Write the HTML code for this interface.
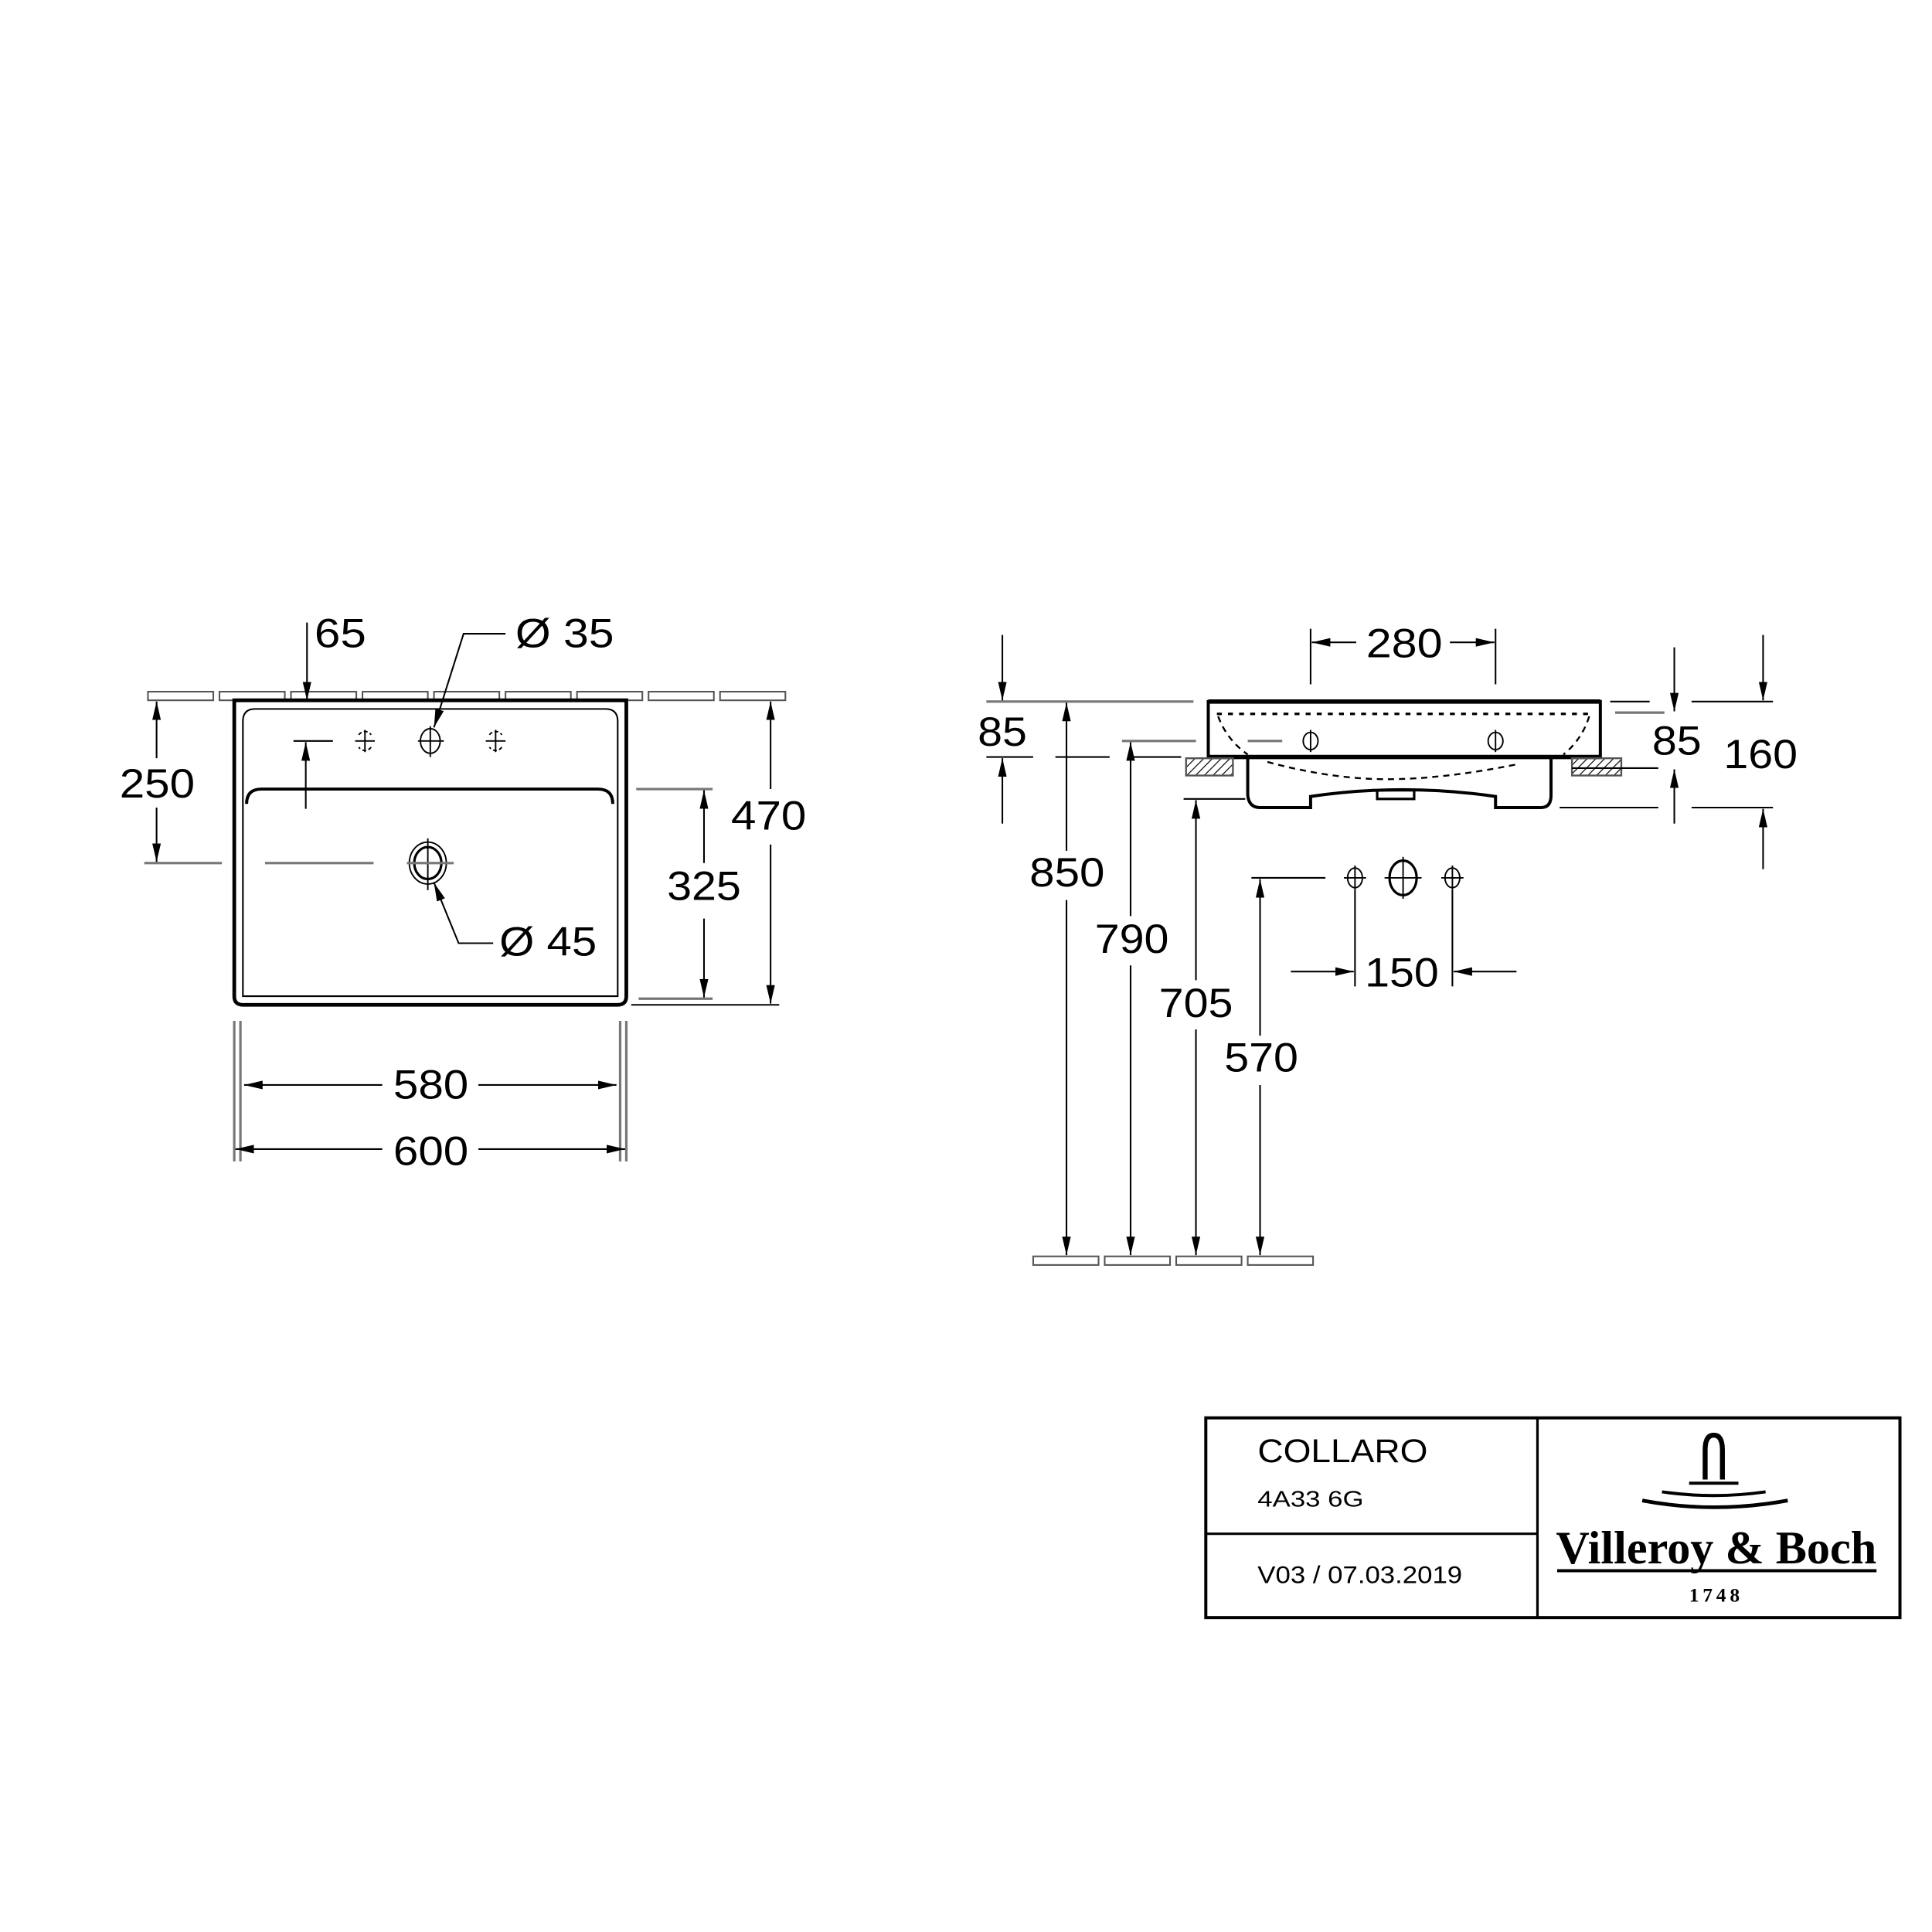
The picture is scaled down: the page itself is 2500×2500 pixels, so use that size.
<!DOCTYPE html>
<html><head><meta charset="utf-8"><style>
html,body{margin:0;padding:0;background:#fff}
svg{display:block}
text{font-family:"Liberation Sans",sans-serif;fill:#000}
</style></head><body>
<svg width="2500" height="2500" viewBox="0 0 1567 1567" xmlns="http://www.w3.org/2000/svg">
<defs>
<marker id="a" markerUnits="userSpaceOnUse" markerWidth="16" markerHeight="8" refX="15" refY="3.5" orient="auto"><path d="M0,0 L15,3.5 L0,7 z" fill="#000"/></marker>
<pattern id="h" width="5" height="5" patternUnits="userSpaceOnUse" patternTransform="rotate(45)"><line x1="0" y1="0" x2="0" y2="5" stroke="#000" stroke-width="1.5"/></pattern>
</defs>
<rect width="1567" height="1567" fill="#fff"/>

<!-- LEFT PLAN VIEW -->
<g fill="none" stroke="#555" stroke-width="1.3">
<rect x="120" y="561" width="53" height="7"/><rect x="178" y="561" width="53" height="7"/><rect x="236" y="561" width="53" height="7"/><rect x="294" y="561" width="53" height="7"/><rect x="352" y="561" width="53" height="7"/><rect x="410" y="561" width="53" height="7"/><rect x="468" y="561" width="53" height="7"/><rect x="526" y="561" width="53" height="7"/><rect x="584" y="561" width="53" height="7"/>
</g>
<path d="M190,568 H508 V808 Q508,815 501,815 H197 Q190,815 190,808 Z" fill="#fff" stroke="#000" stroke-width="3"/>
<path d="M197,808 V585 Q197,575 207,575 H491 Q501,575 501,585 V808 Z" fill="none" stroke="#000" stroke-width="1.3"/>
<path d="M200,652 Q200,640 212,640 H485 Q497,640 497,652" fill="none" stroke="#000" stroke-width="2.5"/>
<g stroke="#000" stroke-width="1.2" fill="none">
<ellipse cx="349" cy="601" rx="8" ry="10"/><line x1="339" y1="601" x2="360" y2="601"/><line x1="349" y1="589" x2="349" y2="614"/>
<path d="M291,596 A6,6 0 0 1 301,596 M301,606 A6,6 0 0 1 291,606" stroke-dasharray="3,2"/><line x1="288" y1="601" x2="304" y2="601"/><line x1="296" y1="592" x2="296" y2="610"/>
<path d="M397,596 A6,6 0 0 1 407,596 M407,606 A6,6 0 0 1 397,606" stroke-dasharray="3,2"/><line x1="394" y1="601" x2="410" y2="601"/><line x1="402" y1="592" x2="402" y2="610"/>
<ellipse cx="347" cy="700" rx="15" ry="17"/><ellipse cx="347" cy="700" rx="11" ry="13" stroke-width="2"/>
<line x1="347" y1="680" x2="347" y2="722"/>
</g>
<g stroke="#777" stroke-width="2">
<line x1="117" y1="700" x2="180" y2="700"/><line x1="215" y1="700" x2="303" y2="700"/><line x1="330" y1="700" x2="368" y2="700"/>
<line x1="516" y1="640" x2="578" y2="640"/><line x1="518" y1="810" x2="578" y2="810"/>
<line x1="190" y1="828" x2="190" y2="942"/><line x1="195" y1="828" x2="195" y2="942"/>
<line x1="503" y1="828" x2="503" y2="942"/><line x1="508" y1="828" x2="508" y2="942"/>
</g>
<g stroke="#000" stroke-width="1.3" fill="none">
<line x1="512" y1="815" x2="632" y2="815"/>
<line x1="249" y1="505" x2="249" y2="568" marker-end="url(#a)"/>
<polyline points="410,514 376,514 352,590" marker-end="url(#a)"/>
<polyline points="400,765 372,765 352,716" marker-end="url(#a)"/>
<line x1="127" y1="615" x2="127" y2="569" marker-end="url(#a)"/>
<line x1="127" y1="655" x2="127" y2="699" marker-end="url(#a)"/>
<line x1="238" y1="601" x2="270" y2="601"/>
<line x1="248" y1="656" x2="248" y2="602" marker-end="url(#a)"/>
<line x1="571" y1="700" x2="571" y2="641" marker-end="url(#a)"/>
<line x1="571" y1="745" x2="571" y2="809" marker-end="url(#a)"/>
<line x1="625" y1="640" x2="625" y2="569" marker-end="url(#a)"/>
<line x1="625" y1="685" x2="625" y2="814" marker-end="url(#a)"/>
<line x1="310" y1="880" x2="198" y2="880" marker-end="url(#a)"/>
<line x1="388" y1="880" x2="500" y2="880" marker-end="url(#a)"/>
<line x1="310" y1="932" x2="191" y2="932" marker-end="url(#a)"/>
<line x1="388" y1="932" x2="507" y2="932" marker-end="url(#a)"/>
</g>
<g font-size="33">
<text x="255" y="525" textLength="42" lengthAdjust="spacingAndGlyphs">65</text>
<text x="418" y="525" textLength="80" lengthAdjust="spacingAndGlyphs">Ø 35</text>
<text x="97" y="647" textLength="61" lengthAdjust="spacingAndGlyphs">250</text>
<text x="405" y="775" textLength="79" lengthAdjust="spacingAndGlyphs">Ø 45</text>
<text x="541" y="730" textLength="60" lengthAdjust="spacingAndGlyphs">325</text>
<text x="593" y="673" textLength="61" lengthAdjust="spacingAndGlyphs">470</text>
<text x="319" y="891" textLength="61" lengthAdjust="spacingAndGlyphs">580</text>
<text x="319" y="945" textLength="61" lengthAdjust="spacingAndGlyphs">600</text>
</g>

<!-- SIDE VIEW -->
<rect x="980" y="569" width="318" height="45" fill="#fff" stroke="#000" stroke-width="2.5"/>
<line x1="980" y1="569" x2="1298" y2="569" stroke="#000" stroke-width="3.5"/>
<line x1="980" y1="614" x2="1298" y2="614" stroke="#000" stroke-width="3.5"/>
<path d="M987,579 H1290" stroke="#000" stroke-width="2" stroke-dasharray="4,5" fill="none"/>
<path d="M988,581 Q995,600 1012,612 M1289,581 Q1283,600 1268,612 M1028,618 Q1080,632 1125,632 Q1170,632 1230,620" stroke="#000" stroke-width="1.5" stroke-dasharray="5,4" fill="none"/>
<g stroke="#000" stroke-width="1.2" fill="none">
<ellipse cx="1063" cy="601" rx="6" ry="7"/><line x1="1063" y1="592" x2="1063" y2="610"/>
<ellipse cx="1213" cy="601" rx="6" ry="7"/><line x1="1213" y1="592" x2="1213" y2="610"/>
</g>
<path d="M1012,614 V645 Q1013,655 1022,655 H1063 V646 Q1138,635 1213,646 V655 H1250 Q1258,655 1258,645 V614" fill="none" stroke="#000" stroke-width="2.5"/>
<rect x="1117" y="641" width="30" height="7" fill="none" stroke="#000" stroke-width="2"/>
<rect x="962" y="615" width="38" height="14" fill="url(#h)" stroke="#555" stroke-width="1.5"/>
<rect x="1275" y="615" width="40" height="14" fill="url(#h)" stroke="#555" stroke-width="1.5"/>
<g stroke="#777" stroke-width="2">
<line x1="800" y1="569" x2="968" y2="569"/>
<line x1="910" y1="601" x2="970" y2="601"/><line x1="1012" y1="601" x2="1040" y2="601"/>
<line x1="1310" y1="578" x2="1350" y2="578"/>
</g>
<g stroke="#000" stroke-width="1.3" fill="none">
<line x1="800" y1="614" x2="838" y2="614"/><line x1="856" y1="614" x2="900" y2="614"/><line x1="918" y1="614" x2="958" y2="614"/>
<line x1="960" y1="648" x2="1010" y2="648"/>
<line x1="1015" y1="712" x2="1075" y2="712"/>
<line x1="1306" y1="569" x2="1338" y2="569"/><line x1="1372" y1="569" x2="1438" y2="569"/>
<line x1="1275" y1="623" x2="1345" y2="623"/>
<line x1="1265" y1="655" x2="1345" y2="655"/><line x1="1372" y1="655" x2="1438" y2="655"/>
<line x1="1063" y1="510" x2="1063" y2="555"/><line x1="1213" y1="510" x2="1213" y2="555"/>
<line x1="1100" y1="521" x2="1064" y2="521" marker-end="url(#a)"/>
<line x1="1176" y1="521" x2="1212" y2="521" marker-end="url(#a)"/>
<line x1="813" y1="515" x2="813" y2="568" marker-end="url(#a)"/>
<line x1="813" y1="668" x2="813" y2="615" marker-end="url(#a)"/>
<line x1="865" y1="690" x2="865" y2="570" marker-end="url(#a)"/>
<line x1="865" y1="730" x2="865" y2="1018" marker-end="url(#a)"/>
<line x1="917" y1="743" x2="917" y2="602" marker-end="url(#a)"/>
<line x1="917" y1="783" x2="917" y2="1018" marker-end="url(#a)"/>
<line x1="970" y1="795" x2="970" y2="649" marker-end="url(#a)"/>
<line x1="970" y1="835" x2="970" y2="1018" marker-end="url(#a)"/>
<line x1="1022" y1="840" x2="1022" y2="713" marker-end="url(#a)"/>
<line x1="1022" y1="880" x2="1022" y2="1018" marker-end="url(#a)"/>
<line x1="1099" y1="722" x2="1099" y2="800"/><line x1="1178" y1="722" x2="1178" y2="800"/>
<line x1="1047" y1="788" x2="1098" y2="788" marker-end="url(#a)"/>
<line x1="1230" y1="788" x2="1179" y2="788" marker-end="url(#a)"/>
<line x1="1358" y1="525" x2="1358" y2="577" marker-end="url(#a)"/>
<line x1="1358" y1="668" x2="1358" y2="624" marker-end="url(#a)"/>
<line x1="1430" y1="515" x2="1430" y2="568" marker-end="url(#a)"/>
<line x1="1430" y1="705" x2="1430" y2="656" marker-end="url(#a)"/>
</g>
<g stroke="#000" stroke-width="1.2" fill="none">
<ellipse cx="1099" cy="712" rx="6" ry="8"/><line x1="1090" y1="712" x2="1108" y2="712"/><line x1="1099" y1="702" x2="1099" y2="722"/>
<ellipse cx="1138" cy="712" rx="11" ry="14" stroke-width="2"/><line x1="1123" y1="712" x2="1153" y2="712"/><line x1="1138" y1="695" x2="1138" y2="729"/>
<ellipse cx="1178" cy="712" rx="6" ry="8"/><line x1="1169" y1="712" x2="1187" y2="712"/><line x1="1178" y1="702" x2="1178" y2="722"/>
</g>
<g fill="none" stroke="#555" stroke-width="1.3">
<rect x="838" y="1019" width="53" height="7"/><rect x="896" y="1019" width="53" height="7"/><rect x="954" y="1019" width="53" height="7"/><rect x="1012" y="1019" width="53" height="7"/>
</g>
<g font-size="33">
<text x="1108" y="533" textLength="62" lengthAdjust="spacingAndGlyphs">280</text>
<text x="793" y="605" textLength="40" lengthAdjust="spacingAndGlyphs">85</text>
<text x="835" y="719" textLength="61" lengthAdjust="spacingAndGlyphs">850</text>
<text x="888" y="773" textLength="60" lengthAdjust="spacingAndGlyphs">790</text>
<text x="940" y="825" textLength="60" lengthAdjust="spacingAndGlyphs">705</text>
<text x="993" y="869" textLength="60" lengthAdjust="spacingAndGlyphs">570</text>
<text x="1107" y="800" textLength="60" lengthAdjust="spacingAndGlyphs">150</text>
<text x="1340" y="612" textLength="40" lengthAdjust="spacingAndGlyphs">85</text>
<text x="1398" y="623" textLength="60" lengthAdjust="spacingAndGlyphs">160</text>
</g>

<!-- TITLE BLOCK -->
<rect x="978" y="1150" width="563" height="162" fill="none" stroke="#000" stroke-width="2.5"/>
<line x1="1247" y1="1150" x2="1247" y2="1312" stroke="#000" stroke-width="2"/>
<line x1="978" y1="1244" x2="1247" y2="1244" stroke="#000" stroke-width="2"/>
<text x="1020" y="1186" font-size="27" textLength="138" lengthAdjust="spacingAndGlyphs">COLLARO</text>
<text x="1020" y="1222" font-size="18" textLength="86" lengthAdjust="spacingAndGlyphs">4A33 6G</text>
<text x="1020" y="1284" font-size="20" textLength="166" lengthAdjust="spacingAndGlyphs">V03 / 07.03.2019</text>
<g fill="none" stroke="#000">
<path d="M1383,1200 V1176 Q1383,1164 1390,1164 Q1397,1164 1397,1176 V1200" stroke-width="4"/>
<path d="M1370,1203 H1410" stroke-width="2.5"/>
<path d="M1348,1210 Q1390,1216 1432,1210" stroke-width="2.5"/>
<path d="M1332,1217 Q1390,1228 1450,1217" stroke-width="3"/>
</g>
<text x="1262" y="1268" font-weight="bold" font-size="38" textLength="260" lengthAdjust="spacingAndGlyphs" style="font-family:'Liberation Serif',serif">Villeroy &amp; Boch</text>
<line x1="1263" y1="1274" x2="1522" y2="1274" stroke="#000" stroke-width="2.5"/>
<text x="1392" y="1299" font-size="16" font-weight="bold" text-anchor="middle" style="font-family:'Liberation Serif',serif" letter-spacing="3">1748</text>
</svg>
</body></html>
